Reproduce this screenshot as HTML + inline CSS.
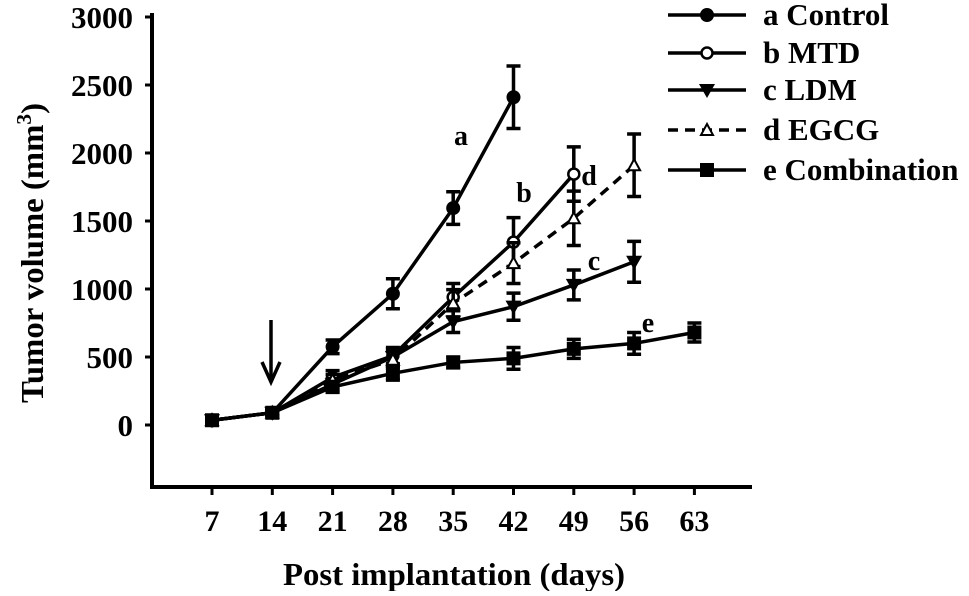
<!DOCTYPE html>
<html><head><meta charset="utf-8"><style>
body{margin:0;background:#fff}
svg text{font-family:"Liberation Serif",serif;font-weight:bold;fill:#000}
</style></head><body>
<svg id="chart" width="969" height="591" viewBox="0 0 969 591" xmlns="http://www.w3.org/2000/svg">
<g id="axes"></g>
<g id="series"></g>
<g id="legend"></g>
<text transform="translate(43,253) rotate(-90)" text-anchor="middle" font-size="32" textLength="300" lengthAdjust="spacingAndGlyphs">Tumor volume (mm<tspan font-size="21" dy="-12">3</tspan><tspan dy="12">)</tspan></text>
<text x="454" y="585" text-anchor="middle" font-size="32" textLength="342" lengthAdjust="spacingAndGlyphs">Post implantation (days)</text>
<g stroke="#000" stroke-width="3.5" fill="none">
<line x1="271" y1="320" x2="271" y2="380"/><polyline points="262,362 271,382 280,362"/></g>
</svg>
<script>
const days=[7,14,21,28,35,42,49,56,63];
const yTicks=[0,500,1000,1500,2000,2500,3000];
const seriesNames=["a Control","b MTD","c LDM","d EGCG","e Combination"];
const ctrlX=[7,14,21,28,35,42], ctrlY=[35,90,575,965,1595,2410], ctrlE=[20,20,50,110,120,230];
const mtdX=[7,14,21,28,35,42,49], mtdY=[35,90,350,510,940,1345,1845], mtdE=[20,20,50,60,100,180,200];
const ldmX=[7,14,21,28,35,42,49,56], ldmY=[35,90,300,500,760,870,1030,1200], ldmE=[20,20,40,60,80,100,110,150];
const egcgX=[7,14,21,28,35,42,49,56], egcgY=[35,90,330,480,895,1190,1520,1910], egcgE=[20,20,40,60,100,150,200,230];
const combX=[7,14,21,28,35,42,49,56,63], combY=[35,90,280,380,460,490,560,600,680], combE=[20,20,40,50,40,80,70,80,70];
const NS="http://www.w3.org/2000/svg";
const xs=d=>212+(d-7)*60.3/7;
const ys=v=>425-v*0.136;
function mk(tag,attrs,parent){const e=document.createElementNS(NS,tag);for(const k in attrs)e.setAttribute(k,attrs[k]);parent.appendChild(e);return e;}
const ax=document.getElementById('axes');
let l=mk('line',{x1:152,y1:13,x2:152,y2:489,stroke:'#000','stroke-width':4},ax);


l=mk('line',{x1:150,y1:487,x2:752,y2:487,stroke:'#000','stroke-width':4},ax);


yTicks.forEach(v=>{
 const t=mk('line',{x1:145,y1:ys(v),x2:152,y2:ys(v),stroke:'#000','stroke-width':3},ax);
 
 
 const tx=mk('text',{x:133,y:ys(v)+11,'text-anchor':'end','font-size':31},ax);
 tx.textContent=v;
 
 
});
days.forEach(d=>{
 const t=mk('line',{x1:xs(d),y1:487,x2:xs(d),y2:495,stroke:'#000','stroke-width':3},ax);
 
 
 const tx=mk('text',{x:xs(d),y:531,'text-anchor':'middle','font-size':30},ax);
 tx.textContent=d;
 
 
});
function marker(type,x,y,g){
 let m;
 if(type==='circle')m=mk('circle',{cx:x,cy:y,r:7,fill:'#000'},g);
 else if(type==='ocircle')m=mk('circle',{cx:x,cy:y,r:5.5,fill:'#fff',stroke:'#000','stroke-width':2.5},g);
 else if(type==='dtri')m=mk('polygon',{points:`${x-8},${y-6} ${x+8},${y-6} ${x},${y+8}`,fill:'#000'},g);
 else if(type==='otri')m=mk('polygon',{points:`${x-6},${y+5} ${x+6},${y+5} ${x},${y-6}`,fill:'#fff',stroke:'#000','stroke-width':2},g);
 else m=mk('rect',{x:x-7,y:y-7,width:14,height:14,fill:'#000'},g);
 return m;
}
const defs=[[ctrlX,ctrlY,ctrlE,'circle',null,'control'],[mtdX,mtdY,mtdE,'ocircle',null,'mtd'],[ldmX,ldmY,ldmE,'dtri',null,'ldm'],[egcgX,egcgY,egcgE,'otri','10,7','egcg'],[combX,combY,combE,'square',null,'combination']];
const sg=document.getElementById('series');
defs.forEach(([X,Y,E,mt,dash,nm])=>{
 const g=mk('g',{},sg);
 
 
 const pl=mk('polyline',{points:X.map((d,i)=>xs(d)+','+ys(Y[i])).join(' '),fill:'none',stroke:'#000','stroke-width':3.5},g);
 if(dash)pl.setAttribute('stroke-dasharray',dash);
 
 
 X.forEach((d,i)=>{
  const x=xs(d),y1=ys(Y[i]+E[i]),y2=ys(Y[i]-E[i]);
  const eb=mk('path',{d:`M${x},${y1}V${y2}M${x-7},${y1}H${x+7}M${x-7},${y2}H${x+7}`,stroke:'#000','stroke-width':3.5,fill:'none'},g);
  
  
  const m=marker(mt,x,ys(Y[i]),g);
  
  
 });
});
[['a',461,145],['b',524,202],['d',589,185],['c',594,270],['e',648,332]].forEach(([t,x,y])=>{
 const tx=mk('text',{x:x,y:y,'text-anchor':'middle','font-size':28},sg);
 tx.textContent=t;
 
 
});
const lg=document.getElementById('legend');
const rowY=[15,53,90,130,170];
seriesNames.forEach((n,i)=>{
 const g=mk('g',{},lg);
 
 
 const ln=mk('line',{x1:668,y1:rowY[i],x2:746,y2:rowY[i],stroke:'#000','stroke-width':3.5},g);
 if(defs[i][4])ln.setAttribute('stroke-dasharray','10,7');
 marker(defs[i][3],707,rowY[i],g);
 const tx=mk('text',{x:763,y:rowY[i]+10,'font-size':31},g);
 tx.textContent=n;
});
</script>
</body></html>
